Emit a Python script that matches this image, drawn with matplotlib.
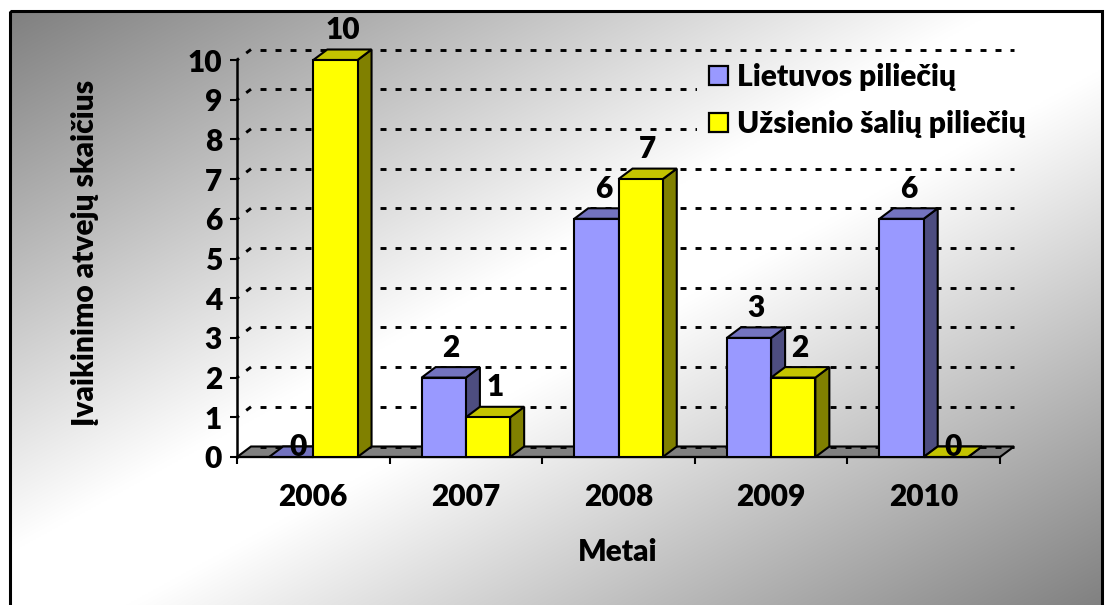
import numpy as np
import matplotlib
matplotlib.use('Agg')
import matplotlib.pyplot as plt
from matplotlib.patches import Polygon, Rectangle

# ---------------- data ----------------
years = ['2006', '2007', '2008', '2009', '2010']
lietuvos = [0, 2, 6, 3, 6]
uzsienio = [10, 1, 7, 2, 0]
series_names = ['Lietuvos piliečių', 'Užsienio šalių piliečių']
yticks = list(range(0, 11))
ylabel = 'Įvaikinimo atvejų skaičius'
xlabel = 'Metai'

# ---------------- style ----------------
W, H, DPI = 1106, 605, 100
plt.rcParams['font.family'] = ['Lato', 'DejaVu Sans']
plt.rcParams['lines.scale_dashes'] = False
FS = 21.5
FW = 'heavy'

front_cols = ['#9999FF', '#FFFF00']
top_cols = ['#7373BF', '#C4C400']
side_cols = ['#4D4D80', '#808000']
floor_col = '#808080'

fig = plt.figure(figsize=(W / DPI, H / DPI), dpi=DPI)
fig.patch.set_facecolor('white')

# chart-area gradient
CX0, CY0, CW, CH = 10, 11, 1092, 600


def gradient(x0, x1, y0, y1, n=400):
    xs = np.linspace(x0, x1, n)
    ys = np.linspace(y0, y1, n)
    X, Y = np.meshgrid(xs, ys)
    t = ((X - CX0) / CW + (Y - CY0) / CH) / 2.0
    u = np.clip(np.minimum(t, 1 - t) / 0.45, 0, 1)
    g = 0.5 + 0.5 * u
    return np.dstack([g, g, g])


bg = fig.add_axes([0, 0, 1, 1], zorder=0)
bg.imshow(gradient(CX0, CX0 + CW, CY0, CY0 + CH), extent=(CX0, CX0 + CW, CY0 + CH, CY0),
          aspect='auto', interpolation='bilinear')
bg.set_xlim(0, W)
bg.set_ylim(H, 0)
bg.axis('off')
bg.add_patch(Rectangle((CX0, CY0), CW, CH, fill=False, ec='black', lw=2.2, clip_on=False))

# ---------------- main axes ----------------
AX_L, AX_R, AX_Y0, AX_Y10 = 237, 1000, 457, 60
ax = fig.add_axes([AX_L / W, (H - AX_Y0) / H, (AX_R - AX_L) / W, (AX_Y0 - AX_Y10) / H], zorder=1)
ax.set_facecolor('none')
n = len(years)
ax.set_xlim(0, n)
ax.set_ylim(0, 10)
sx = (AX_R - AX_L) / n
sy = (AX_Y0 - AX_Y10) / 10.0
dx = 14.0 / sx
dy = 10.5 / sy
bw = 0.29

for s in ['top', 'right']:
    ax.spines[s].set_visible(False)
ax.spines['left'].set_linewidth(1.8)
ax.spines['bottom'].set_linewidth(1.6)

# floor
ax.add_patch(Polygon([(0, 0), (n, 0), (n + dx, dy), (dx, dy)], closed=True,
                     fc=floor_col, ec='black', lw=1.5, zorder=2, clip_on=False))

# gridlines (back wall + side wall)
dash = (4.3, 6.5)
for v in yticks:
    ax.plot([dx, n + dx], [v + dy, v + dy], color='black', lw=2.1,
            ls=(4.3, dash), dash_capstyle='butt', zorder=2.5, clip_on=False)
    if v > 0:
        ax.plot([dx, 0], [v + dy, v], color='black', lw=2.1,
                ls=(0, dash), dash_capstyle='butt', zorder=2.5, clip_on=False)

# bars
series = [lietuvos, uzsienio]
for i in range(n):
    for s, vals in enumerate(series):
        v = vals[i]
        x0 = i + 0.5 - bw + s * bw
        side = [(x0 + bw, 0), (x0 + bw + dx, dy), (x0 + bw + dx, v + dy), (x0 + bw, v)]
        top = [(x0, v), (x0 + bw, v), (x0 + bw + dx, v + dy), (x0 + dx, v + dy)]
        ax.add_patch(Polygon(side, closed=True, fc=side_cols[s], ec='black', lw=1.5,
                             zorder=3, clip_on=False))
        ax.add_patch(Polygon(top, closed=True, fc=top_cols[s], ec='black', lw=1.5,
                             zorder=3, clip_on=False))
        ax.bar(x0, v, width=bw, align='edge', color=front_cols[s], edgecolor='black',
               linewidth=1.5, zorder=3, clip_on=False)
        off = 14 if v > 0 else 0
        ax.annotate(str(v), xy=(x0 + bw / 2 + dx / 2, v + dy), xytext=(0, off),
                    textcoords='offset points', ha='center', va='center',
                    fontsize=FS, fontweight=FW, zorder=6, annotation_clip=False)

# ticks
ax.set_yticks(yticks)
ax.set_yticklabels([str(v) for v in yticks])
ax.tick_params(axis='y', length=5, width=1.5, pad=5.8, labelsize=FS, direction='out')
ax.set_xticks(range(n + 1))
ax.set_xticklabels([])
ax.set_xticks(np.arange(n) + 0.5, minor=True)
ax.set_xticklabels(years, minor=True)
ax.tick_params(axis='x', which='major', length=5, width=1.5, direction='out')
ax.tick_params(axis='x', which='minor', length=0, pad=18.5, labelsize=FS)
for lab in ax.get_xticklabels(minor=True) + ax.get_yticklabels():
    lab.set_fontweight(FW)

# axis titles
fig.text(85 / W, 1 - 253 / H, ylabel, rotation=90, ha='center', va='center',
         fontsize=FS, fontweight=FW)
fig.text(618 / W, 1 - 552 / H, xlabel, ha='center', va='center',
         fontsize=FS, fontweight=FW)

# ---------------- legend ----------------
LX0, LX1, LY0, LY1 = 697, 1040, 55, 150
lax = fig.add_axes([LX0 / W, (H - LY1) / H, (LX1 - LX0) / W, (LY1 - LY0) / H], zorder=2)
lax.imshow(gradient(LX0, LX1, LY0, LY1, n=100), extent=(LX0, LX1, LY1, LY0),
           aspect='auto', interpolation='bilinear')
lax.set_xlim(LX0, LX1)
lax.set_ylim(LY1, LY0)
lax.axis('off')
for k, name in enumerate(series_names):
    yb = 86 + k * 47
    lax.add_patch(Rectangle((709, yb - 20), 19, 19, fc=front_cols[k], ec='black', lw=1.6))
    lax.text(737, yb, name, ha='left', va='baseline', fontsize=FS, fontweight=FW)

fig.savefig('out.png', dpi=DPI)
